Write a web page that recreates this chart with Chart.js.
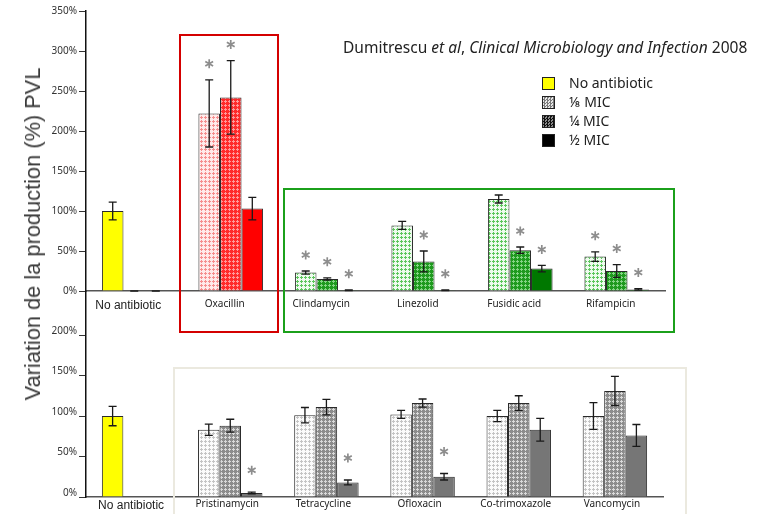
<!DOCTYPE html>
<html>
<head>
<meta charset="utf-8">
<script src="https://cdn.jsdelivr.net/npm/chart.js@4/dist/chart.umd.min.js"></script>
<style>
  html,body{margin:0;padding:0;background:#fff;}
  #wrap{position:relative;width:761px;height:514px;overflow:hidden;background:#fff;}
  canvas{position:absolute;left:0;top:0;}
  .box{position:absolute;box-sizing:border-box;}
  #ytitle{position:absolute;left:33px;top:234px;transform:translate(-50%,-50%) rotate(-90deg);
    white-space:nowrap;font-family:"Liberation Sans",Arial,sans-serif;font-size:21.8px;color:#3a3a3a;}
  #cite{position:absolute;left:343px;top:36px;white-space:nowrap;font-family:"Noto Sans",sans-serif;font-size:15.5px;color:#222;}
  .lg{position:absolute;left:542px;height:14px;font-family:"Noto Sans",sans-serif;font-size:14px;color:#222;white-space:nowrap;}
  .sw{position:absolute;left:0;top:0;width:13px;height:13px;box-sizing:border-box;border:1px solid #222;}
  .lt{position:absolute;left:27px;top:-4px;}
</style>
</head>
<body>
<div id="wrap">
  <canvas id="bottomChart" width="761" height="514"></canvas>
  <canvas id="topChart" width="761" height="514"></canvas>
  <div class="box" style="left:179px;top:34px;width:100px;height:299px;border:2px solid #d40000;"></div>
  <div class="box" style="left:283px;top:188px;width:392px;height:145px;border:2px solid #1ba01b;"></div>
  <div class="box" style="left:173px;top:367px;width:514px;height:160px;border:2px solid #ebe9df;"></div>
  <div id="ytitle">Variation de la production (%) PVL</div>
  <div id="cite">Dumitrescu <i>et al</i>, <i>Clinical Microbiology and Infection</i> 2008</div>
  <div class="lg" style="top:77px;"><div class="sw" style="background:#ffff00;"></div><span class="lt">No antibiotic</span></div>
  <div class="lg" style="top:96px;"><div class="sw" style="background:repeating-conic-gradient(#7a7a7a 0 25%,#e8e8e8 0 50%) 0 0/3px 3px;"></div><span class="lt">⅛ MIC</span></div>
  <div class="lg" style="top:115px;"><div class="sw" style="background:repeating-conic-gradient(#111 0 25%,#8a8a8a 0 50%) 0 0/3px 3px;"></div><span class="lt">¼ MIC</span></div>
  <div class="lg" style="top:134px;"><div class="sw" style="background:#000;"></div><span class="lt">½ MIC</span></div>
</div>
<script>
// ---------- data: top panel ----------
const topCategories = ['No antibiotic','Oxacillin','Clindamycin','Linezolid','Fusidic acid','Rifampicin'];
const topEighth      = [100, 222, 23, 82, 115, 43];
const topEighthErr   = [11, 42, 2, 5, 5, 6];
const topEighthSig   = [0, 1, 1, 0, 0, 1];
const topQuarter     = [0, 242, 15, 37, 51, 25];
const topQuarterErr  = [0, 46, 1.5, 13, 4, 8];
const topQuarterSig  = [0, 1, 1, 1, 1, 1];
const topHalf        = [0, 103, 1, 1, 28, 2];
const topHalfErr     = [0, 14, 0.5, 0.5, 4, 1];
const topHalfSig     = [0, 0, 1, 1, 1, 1];
const topTicks       = [0, 50, 100, 150, 200, 250, 300, 350];

// ---------- data: bottom panel ----------
const bottomCategories = ['No antibiotic','Pristinamycin','Tetracycline','Ofloxacin','Co-trimoxazole','Vancomycin'];
const bottomEighth     = [100, 83, 101, 102, 100, 100];
const bottomEighthErr  = [12, 7, 9.5, 5, 7, 16.5];
const bottomEighthSig  = [0, 0, 0, 0, 0, 0];
const bottomQuarter    = [null, 88, 111, 116, 116, 131];
const bottomQuarterErr = [null, 8, 9.5, 5, 9, 18];
const bottomQuarterSig = [0, 0, 0, 0, 0, 0];
const bottomHalf       = [null, 5, 18, 25, 83, 76];
const bottomHalfErr    = [null, 1, 3, 4, 14, 13.5];
const bottomHalfSig    = [0, 1, 1, 1, 0, 0];
const bottomTicks      = [0, 50, 100, 150, 200];

// ---------- patterns ----------
function pat(bg, fg){
  const c = document.createElement('canvas'); c.width = 4; c.height = 4;
  const x = c.getContext('2d');
  x.fillStyle = bg; x.fillRect(0,0,4,4);
  x.fillStyle = fg; x.fillRect(1,0,1,3); x.fillRect(0,1,3,1);
  return x.createPattern(c, 'repeat');
}
const YELLOW = '#ffff00';
const pinkLight = pat('#ffeaea', '#f58e8e');
const redPat    = pat('#ff2a2a', '#ff9a9a');
const greenLight= pat('#eefbee', '#5cc65c');
const greenPat  = pat('#1e9a1e', '#86d486');
const grayLight = pat('#fbfbfb', '#c4c4c4');
const grayPat   = pat('#8c8c8c', '#dadada');

// ---------- plugin: error bars and significance marks ----------
const errorPlugin = {
  id: 'errs',
  afterDatasetsDraw(chart, args, opts){
    const ctx = chart.ctx, ys = chart.scales.y;
    chart.data.datasets.forEach((ds, i) => {
      const meta = chart.getDatasetMeta(i);
      meta.data.forEach((el, j) => {
        const v = ds.data[j], e = ds.errors[j];
        if (v == null || e == null) return;
        const yT = ys.getPixelForValue(v + e), yB = ys.getPixelForValue(Math.max(v - e, 0));
        ctx.save();
        ctx.strokeStyle = '#1a1a1a'; ctx.lineWidth = 1.3;
        ctx.beginPath();
        ctx.moveTo(el.x, yT); ctx.lineTo(el.x, yB);
        ctx.moveTo(el.x - 4, yT); ctx.lineTo(el.x + 4, yT);
        ctx.moveTo(el.x - 4, yB); ctx.lineTo(el.x + 4, yB);
        ctx.stroke();
        if (ds.sig[j]) {
          const cy = yT - opts.gap, r = 4.5;
          ctx.strokeStyle = '#8d8d8d'; ctx.lineWidth = 1.7;
          ctx.beginPath();
          for (let k = 0; k < 3; k++) {
            const a = Math.PI/2 + k*Math.PI/3;
            ctx.moveTo(el.x + r*Math.cos(a), cy + r*Math.sin(a));
            ctx.lineTo(el.x - r*Math.cos(a), cy - r*Math.sin(a));
          }
          ctx.stroke();
        }
        ctx.restore();
      });
    });
  }
};

function colorFor(list){ return (c) => list[c.dataIndex]; }

// ---------- top chart ----------
new Chart(document.getElementById('topChart'), {
  type: 'bar',
  data: {
    labels: topCategories,
    datasets: [
      { label:'⅛ MIC', data: topEighth, errors: topEighthErr, sig: topEighthSig,
        backgroundColor: colorFor([YELLOW, pinkLight, greenLight, greenLight, greenLight, greenLight]) },
      { label:'¼ MIC', data: topQuarter, errors: topQuarterErr, sig: topQuarterSig,
        backgroundColor: colorFor([YELLOW, redPat, greenPat, greenPat, greenPat, greenPat]) },
      { label:'½ MIC', data: topHalf, errors: topHalfErr, sig: topHalfSig,
        backgroundColor: colorFor([YELLOW, '#ff0000', '#007800', '#007800', '#007800', '#007800']) }
    ]
  },
  options: {
    responsive: false, animation: false,
    datasets: { bar: { categoryPercentage: 0.67, barPercentage: 1, borderColor: '#2a2a2a', borderWidth: 1 } },
    layout: { padding: { left: 0, right: 96, top: 11, bottom: 193 } },
    plugins: { legend: { display: false }, tooltip: { enabled: false }, errs: { gap: 16 } },
    scales: {
      x: {
        grid: { display: false, drawTicks: false, tickLength: 0 },
        border: { display: true, color: '#555', width: 1.5 },
        ticks: { autoSkip: false, maxRotation: 0, labelOffset: -6, padding: 7, color: '#222',
          font: (c) => c.index === 0 ? { family: 'Liberation Sans', size: 12 } : { family: 'Noto Sans', size: 10 } },
        afterFit: (a) => { a.height = 30; }
      },
      y: {
        min: 0, max: 350,
        afterBuildTicks: (a) => { a.ticks = topTicks.map(v => ({ value: v })); },
        ticks: { callback: (v) => v + '%', color: '#333', padding: 2, font: { family: 'Noto Sans', size: 10 } },
        grid: { drawOnChartArea: false, drawTicks: true, tickLength: 7, color: '#333' },
        border: { display: true, color: '#111', width: 1.5 },
        afterFit: (a) => { a.width = 86; }
      }
    }
  },
  plugins: [errorPlugin]
});

// ---------- bottom chart ----------
new Chart(document.getElementById('bottomChart'), {
  type: 'bar',
  data: {
    labels: bottomCategories,
    datasets: [
      { label:'⅛ MIC', data: bottomEighth, errors: bottomEighthErr, sig: bottomEighthSig,
        backgroundColor: colorFor([YELLOW, grayLight, grayLight, grayLight, grayLight, grayLight]) },
      { label:'¼ MIC', data: bottomQuarter, errors: bottomQuarterErr, sig: bottomQuarterSig,
        backgroundColor: grayPat },
      { label:'½ MIC', data: bottomHalf, errors: bottomHalfErr, sig: bottomHalfSig,
        backgroundColor: '#767676' }
    ]
  },
  options: {
    responsive: false, animation: false,
    datasets: { bar: { categoryPercentage: 0.67, barPercentage: 1, borderColor: '#2a2a2a', borderWidth: 1 } },
    layout: { padding: { left: 0, right: 98, top: 290.5, bottom: 0 } },
    plugins: { legend: { display: false }, tooltip: { enabled: false }, errs: { gap: 22 } },
    scales: {
      x: {
        grid: { display: false, drawTicks: false, tickLength: 0 },
        border: { display: true, color: '#555', width: 1.5 },
        ticks: { autoSkip: false, maxRotation: 0, labelOffset: -3, padding: 1, color: '#222',
          font: (c) => c.index === 0 ? { family: 'Liberation Sans', size: 12 } : { family: 'Noto Sans', size: 10 } },
        afterFit: (a) => { a.height = 17; }
      },
      y: {
        min: 0, max: 255,
        afterBuildTicks: (a) => { a.ticks = bottomTicks.map(v => ({ value: v })); },
        ticks: { callback: (v) => v + '%', color: '#333', padding: 2, labelOffset: -4, font: { family: 'Noto Sans', size: 10 } },
        grid: { drawOnChartArea: false, drawTicks: true, tickLength: 7, color: '#333' },
        border: { display: true, color: '#111', width: 1.5 },
        afterFit: (a) => { a.width = 86; }
      }
    }
  },
  plugins: [errorPlugin]
});
</script>
</body>
</html>
